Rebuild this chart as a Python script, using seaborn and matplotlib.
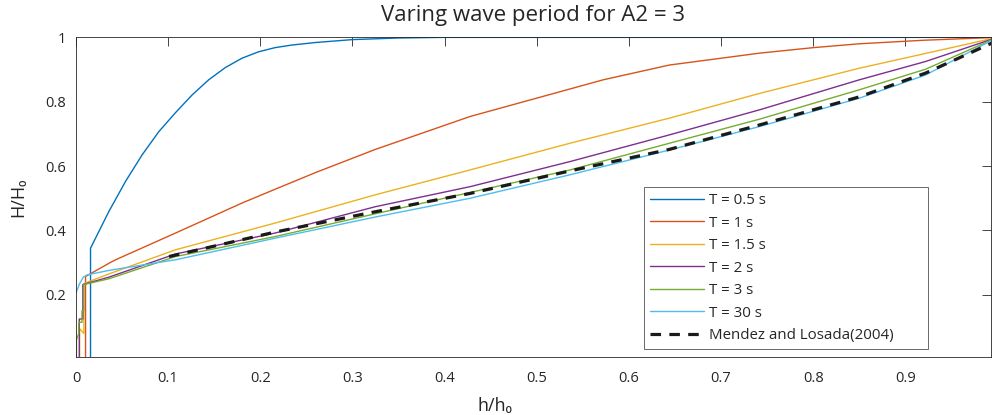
import numpy as np
import pandas as pd
import seaborn as sns
import matplotlib.pyplot as plt
from matplotlib.ticker import FuncFormatter

x_t05 = [0.0158, 0.0158, 0.0357, 0.0537, 0.0718, 0.0899, 0.108, 0.126, 0.144, 0.162, 0.180, 0.198,
         0.216, 0.234, 0.260, 0.300, 0.35, 0.40, 1.0]
y_t05 = [0.0, 0.345, 0.459, 0.552, 0.635, 0.707, 0.766, 0.821, 0.868, 0.906, 0.935, 0.955,
         0.968, 0.976, 0.984, 0.993, 0.998, 1.0, 1.0]

x_t1 = [0.0104, 0.0104, 0.0357, 0.043, 0.108, 0.180, 0.216, 0.260, 0.325, 0.4275, 0.4998, 0.572,
        0.644, 0.742, 0.80, 0.850, 0.92, 1.0]
y_t1 = [0.0, 0.257, 0.298, 0.309, 0.392, 0.485, 0.528, 0.580, 0.652, 0.754, 0.811, 0.868,
        0.914, 0.951, 0.968, 0.980, 0.991, 1.0]

x_t15 = [0.004, 0.004, 0.0086, 0.0086, 0.0357, 0.108, 0.216, 0.325, 0.4275, 0.536, 0.644, 0.742, 0.850, 1.0]
y_t15 = [0.0, 0.095, 0.08, 0.235, 0.265, 0.340, 0.423, 0.511, 0.588, 0.671, 0.749, 0.826, 0.904, 1.0]

x_t2 = [0.0036, 0.0036, 0.0075, 0.0075, 0.0357, 0.108, 0.216, 0.325, 0.4275, 0.536, 0.644, 0.742, 0.850, 0.922, 1.0]
y_t2 = [0.0, 0.125, 0.125, 0.232, 0.255, 0.327, 0.392, 0.474, 0.536, 0.614, 0.697, 0.775, 0.868, 0.925, 1.0]

x_t3 = [0.0005, 0.0005, 0.003, 0.003, 0.0065, 0.0065, 0.0085, 0.0085, 0.0357, 0.108, 0.216, 0.325,
        0.4275, 0.536, 0.644, 0.742, 0.850, 0.922, 1.0]
y_t3 = [0.0, 0.06, 0.08, 0.115, 0.115, 0.15, 0.15, 0.232, 0.25, 0.319, 0.381, 0.452,
        0.518, 0.588, 0.671, 0.746, 0.837, 0.901, 1.0]

x_t30 = [0.0, 0.004, 0.008, 0.012, 0.0357, 0.108, 0.216, 0.325, 0.4275, 0.536, 0.644, 0.742, 0.850, 0.922, 1.0]
y_t30 = [0.206, 0.235, 0.255, 0.262, 0.276, 0.309, 0.376, 0.442, 0.500, 0.573, 0.650, 0.723, 0.811, 0.883, 1.0]

x_ml = [0.101, 0.216, 0.319, 0.4275, 0.536, 0.644, 0.742, 0.850, 0.922, 1.0]
y_ml = [0.319, 0.395, 0.455, 0.515, 0.585, 0.652, 0.728, 0.815, 0.889, 0.99]

labels = ["T = 0.5 s", "T = 1 s", "T = 1.5 s", "T = 2 s", "T = 3 s", "T = 30 s"]
colors = ["#0072BD", "#D95319", "#EDB120", "#7E2F8E", "#77AC30", "#4DBEEE"]
xs = [x_t05, x_t1, x_t15, x_t2, x_t3, x_t30]
ys = [y_t05, y_t1, y_t15, y_t2, y_t3, y_t30]

sns.set_theme(style="white")
plt.rcParams['font.family'] = ['Open Sans', 'DejaVu Sans']
plt.rcParams['text.color'] = '#262626'
plt.rcParams['axes.labelcolor'] = '#262626'

fig = plt.figure(figsize=(9.93, 4.15), dpi=100)
ax = fig.add_axes([0.0765, 0.139, 0.9215, 0.771])

for xv, yv, lab, c in zip(xs, ys, labels, colors):
    df = pd.DataFrame({'h': xv, 'H': yv})
    sns.lineplot(data=df, x='h', y='H', sort=False, estimator=None,
                 color=c, lw=1.0, label=lab, ax=ax)

df_ml = pd.DataFrame({'h': x_ml, 'H': y_ml})
sns.lineplot(data=df_ml, x='h', y='H', sort=False, estimator=None, color='k',
             lw=2.3, dashes=False, label='Mendez and Losada(2004)', ax=ax)
ax.lines[-1].set_dashes((3.3, 2.6))

ax.set_xlim(0, 0.993)
ax.set_ylim(0.006, 1)
ax.set_xticks(np.arange(0, 0.95, 0.1))
ax.set_yticks([0.2, 0.4, 0.6, 0.8, 1.0])
fmt = FuncFormatter(lambda v, p: '%g' % round(v, 2))
ax.xaxis.set_major_formatter(fmt)
ax.yaxis.set_major_formatter(fmt)
ax.tick_params(direction='in', length=6.5, width=0.6, top=True, right=True,
               labelsize=10.5, colors='#262626')
ax.tick_params(axis='x', pad=9.5)
ax.tick_params(axis='y', pad=7.5)
for s in ax.spines.values():
    s.set_color('#262626')
    s.set_linewidth(0.6)

ax.set_xlabel('h/h₀', fontsize=13)
ax.xaxis.set_label_coords(0.458, -0.125)
ax.set_ylabel('H/H₀', fontsize=13)
ax.yaxis.set_label_coords(-0.053, 0.5)
ax.set_title('Varing wave period for A2 = 3', fontsize=16, pad=12)

leg = ax.legend(loc='upper left', bbox_to_anchor=(0.621, 0.0, 0.310, 0.532), mode='expand',
                borderaxespad=0, fontsize=10.8, handlelength=3.6, handletextpad=0.35,
                labelspacing=0.5, frameon=True, fancybox=False, edgecolor='#262626',
                borderpad=0.4)
leg.get_frame().set_linewidth(0.6)

fig.savefig('out.png', dpi=100)
